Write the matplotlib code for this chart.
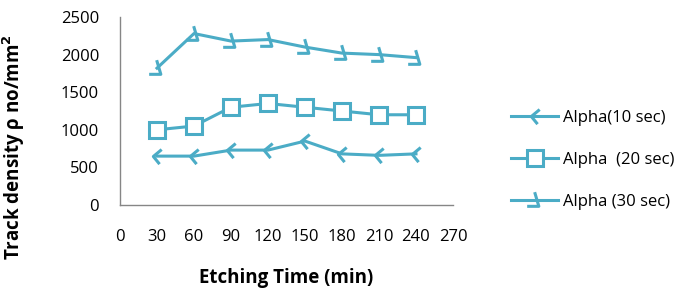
import numpy as np
import matplotlib
matplotlib.use("Agg")
import matplotlib.pyplot as plt
from matplotlib.path import Path

# data
etch_time = [30, 60, 90, 120, 150, 180, 210, 240]
alpha_10 = [650, 650, 730, 730, 850, 680, 660, 680]
alpha_20 = [1000, 1050, 1300, 1350, 1300, 1250, 1200, 1200]
alpha_30 = [1820, 2280, 2180, 2200, 2100, 2020, 2000, 1960]
x_ticks = [0, 30, 60, 90, 120, 150, 180, 210, 240, 270]
y_ticks = [0, 500, 1000, 1500, 2000, 2500]

plt.rcParams['font.family'] = ['Open Sans', 'DejaVu Sans']
color = '#4BACC6'

# odd excel-ish markers
chevron = Path([(0.6, 1.0), (-0.6, 0.0), (0.3, -1.1)],
               [Path.MOVETO, Path.LINETO, Path.LINETO])
bolt = Path([(-0.1, 1.0), (0.4, -0.7), (-1.0, -0.7)],
            [Path.MOVETO, Path.LINETO, Path.LINETO])

fig = plt.figure(figsize=(6.88, 3.0), dpi=100)
ax = fig.add_axes([0.1744, 0.3167, 0.4840, 0.6266])

ax.plot(etch_time, alpha_10, color=color, lw=2.2, marker=chevron, ms=11,
        mew=2.2, mfc='none', label='Alpha(10 sec)')
ax.plot(etch_time, alpha_20, color=color, lw=2.2, marker='s', ms=11,
        mew=2.2, mfc='white', label='Alpha  (20 sec)')
ax.plot(etch_time, alpha_30, color=color, lw=2.2, marker=bolt, ms=12,
        mew=2.2, mfc='none', label='Alpha (30 sec)')

ax.set_xlim(0, 270)
ax.set_ylim(0, 2500)
ax.set_xticks(x_ticks)
ax.set_yticks(y_ticks)
ax.tick_params(length=0, labelsize=12, colors='#000000')
ax.tick_params(axis='x', pad=17)
ax.tick_params(axis='y', pad=15)

for s in ['top', 'right']:
    ax.spines[s].set_visible(False)
for s in ['left', 'bottom']:
    ax.spines[s].set_color('#868686')
    ax.spines[s].set_linewidth(1.0)

ax.set_xlabel('Etching Time (min)', fontsize=13.5, fontweight='bold', labelpad=17)
ax.set_ylabel('Track density ρ no/mm$^\\mathbf{2}$', fontsize=13.5,
              fontweight='bold')
ax.yaxis.set_label_coords(-0.28, 0.31)

ax.legend(loc='center left', bbox_to_anchor=(1.13, 0.24), frameon=False,
          fontsize=12, handlelength=2.8, labelspacing=1.55, handletextpad=0.3)

fig.savefig('out.png', dpi=100)
